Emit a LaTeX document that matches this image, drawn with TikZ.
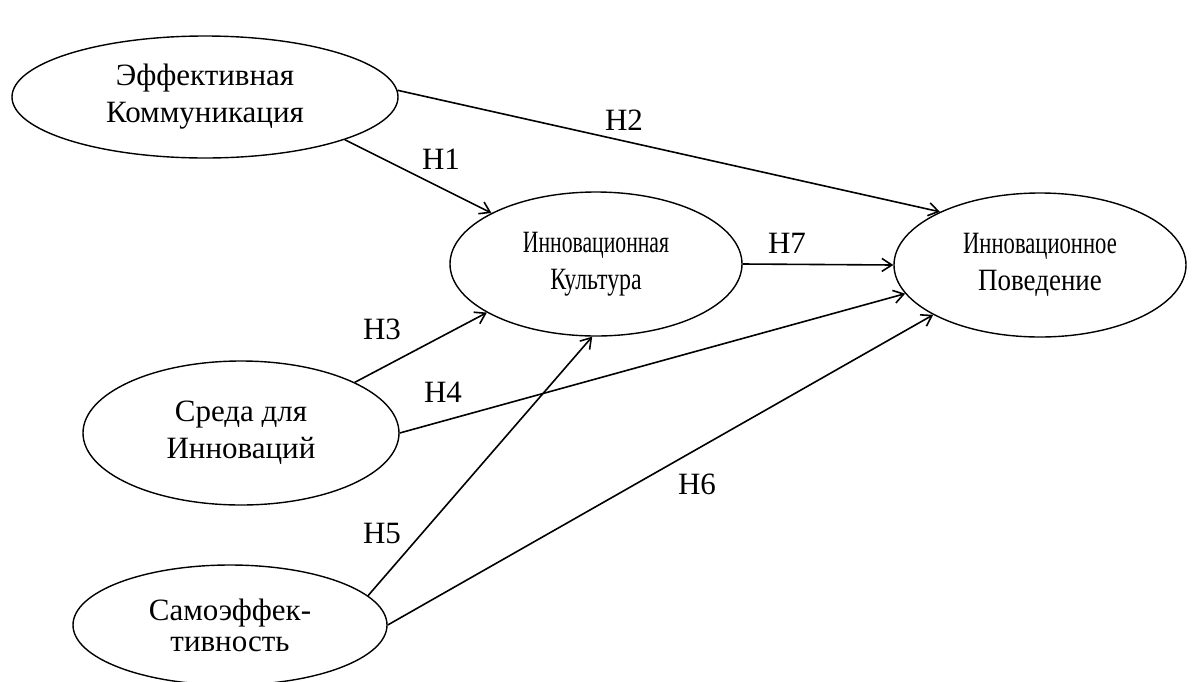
\documentclass[tikz,border=0pt]{standalone}
\usepackage{fontspec}
\setmainfont{Liberation Serif}
\usetikzlibrary{shapes.geometric,arrows.meta}

\begin{document}
\begin{tikzpicture}[x=1pt,y=-1pt,
    every node/.style={font=\fontsize{31}{37}\selectfont},
    konstrukt/.style={draw,ellipse,line width=1.4pt,inner sep=0pt,align=center},
    pfeil/.style={line width=1.6pt,-{Straight Barb[length=10pt,width=13pt]}}]
    \useasboundingbox (0,0) rectangle (1200,681);
    \node[konstrukt,minimum width=386pt,minimum height=122pt] (ek) at (205,97) {Эффективная\\Коммуникация};
    \node[konstrukt,minimum width=292pt,minimum height=144pt] (ik) at (596,264) {\scalebox{.70}[1]{Инновационная}\\\scalebox{.77}[1]{Культура}};
    \node[konstrukt,minimum width=292pt,minimum height=144pt] (ip) at (1040,265) {\scalebox{.73}[1]{Инновационное}\\\scalebox{.87}[1]{Поведение}};
    \node[konstrukt,minimum width=316pt,minimum height=144pt] (sr) at (241,433) {Среда для\\Инноваций};
    \node[konstrukt,minimum width=314pt,minimum height=120pt,font=\fontsize{31}{31}\selectfont] (se) at (230,625) {Самоэффек-\\тивность};
    \draw[pfeil] (ek.-17) -- (ik.154);
    \draw[pfeil] (ek.2) -- (ip.152);
    \draw[pfeil] (sr.24) -- (ik.204);
    \draw[pfeil] (sr.0) -- (ip.192);
    \draw[pfeil] (se.12) -- (ik.267);
    \draw[pfeil] (se.0) -- (ip.205);
    \draw[pfeil] (ik.0) -- (ip.180);
    \node (h1) at (441,159) {H1};
    \node (h2) at (624,120) {H2};
    \node (h3) at (382,329) {H3};
    \node (h4) at (443,392) {H4};
    \node (h5) at (382,533) {H5};
    \node (h6) at (697,484) {H6};
    \node (h7) at (787,243) {H7};
\end{tikzpicture}
\end{document}
